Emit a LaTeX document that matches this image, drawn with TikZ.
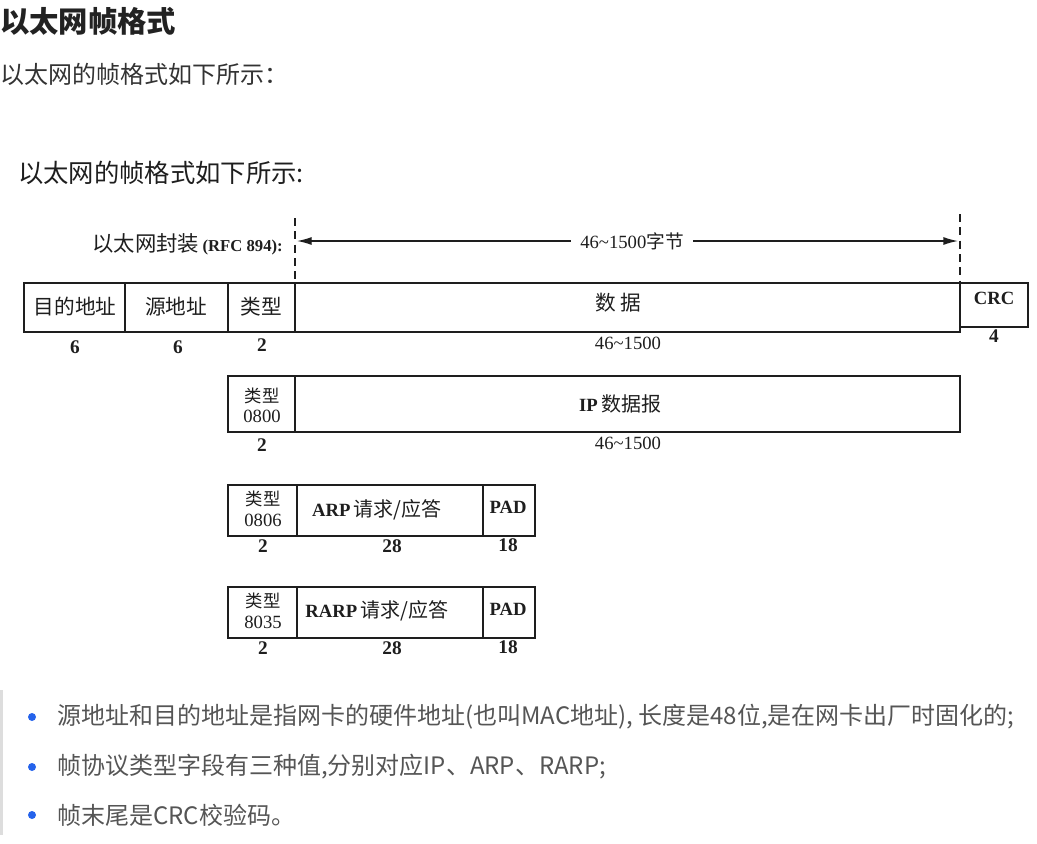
\documentclass[tikz,border=0pt]{standalone}
\usepackage{fontspec}
\setmainfont{Liberation Serif}
\newfontfamily\cjk{Noto Sans CJK SC}
\usetikzlibrary{arrows.meta}
\newcommand\setfs[1]{\fontsize{#1}{#1}\selectfont}
\definecolor{scan}{HTML}{1E1E1E}
\definecolor{headc}{HTML}{222222}
\definecolor{bodyc}{HTML}{333333}
\definecolor{notec}{HTML}{555555}
\definecolor{dotc}{HTML}{2563EB}
\definecolor{barc}{HTML}{DDDDDD}

\begin{document}
\begin{tikzpicture}[
  x=0.75pt, y=-0.75pt,
  every node/.style={inner sep=0pt},
  cellline/.style={draw=scan, line width=1.2pt},
  guide/.style={draw=scan, line width=1pt, dash pattern=on 6pt off 4pt},
  spanarrow/.style={draw=scan, line width=1pt, -{Latex[length=11pt,width=6pt]}},
  lab/.style={text=scan, font={\cjk\setfs{15.5}}},
  stack/.style={text=scan, font={\cjk\setfs{13}}},
  word/.style={text=scan, font={\bfseries\setfs{14}}},
  num/.style={text=scan, font={\bfseries\setfs{14.5}}},
  sizetext/.style={text=scan, font={\setfs{14}}},
  bullet/.style={circle, fill=dotc, minimum size=6pt},
  note/.style={anchor=west, text=notec, font={\cjk\setfs{18}}}]

  \useasboundingbox (0,0) rectangle (1037,843);

  % page text above the scan
  \node[anchor=west, text=headc, font={\cjk\bfseries\setfs{22}}] (title) at (0,21) {以太网帧格式};
  \node[anchor=west, text=bodyc, font={\cjk\setfs{18}}] (intro) at (0,74) {以太网的帧格式如下所示：};

  % scanned figure: caption
  \node[anchor=west, text=scan, font={\cjk\setfs{19}}] (caption) at (18,173) {以太网的帧格式如下所示:};
  \node[anchor=east, text=scan] (encap) at (283,244)
    {{\cjk\setfs{16}以太网封装} {\bfseries\setfs{12.5}(RFC 894):}};

  % frame rows
  \draw[cellline] (24,283) rectangle (960,332);
  \draw[cellline] (960,283) rectangle (1028,327);
  \draw[cellline] (125,283) -- (125,332);
  \draw[cellline] (228,283) -- (228,332);
  \draw[cellline] (295,283) -- (295,332);

  \draw[cellline] (228,376) rectangle (960,432);
  \draw[cellline] (295,376) -- (295,432);

  \foreach \top in {485,587} {
    \draw[cellline] (228,\top) rectangle (535,\top+51);
    \draw[cellline] (297,\top) -- (297,\top+51);
    \draw[cellline] (483,\top) -- (483,\top+51);
  }

  % span of the data field
  \draw[guide] (295,218) -- (295,283);
  \draw[guide] (960,214) -- (960,283);
  \coordinate (lend) at (297,241);
  \coordinate (rend) at (958,241);
  \node[text=scan, inner xsep=7pt] (span) at (632,241)
    {{\setfs{14}46\textasciitilde1500}{\cjk\setfs{14}字节}};
  \draw[spanarrow] (span.west) -- (lend);
  \draw[spanarrow] (span.east) -- (rend);

  % labels in the cells
  \node[lab] (dst)  at (75,307)  {目的地址};
  \node[lab] (src)  at (176,307) {源地址};
  \node[lab] (type) at (261,307) {类型};
  \node[lab] (data) at (618,303) {数\ 据};
  \node[word] (crc) at (994,298) {CRC};

  \node[stack] (iptype) at (262,396) {类型};
  \node[sizetext] (ipcode) at (262,416) {0800};
  \node[text=scan] (ip) at (620,404) {{\bfseries\setfs{14}IP} {\cjk\setfs{15}数据报}};

  \node[stack] (arptype) at (263,499) {类型};
  \node[sizetext] (arpcode) at (263,520) {0806};
  \node[text=scan] (arp) at (377,510) {{\bfseries\setfs{14}ARP} {\cjk\setfs{15}请求/应答}};
  \node[word] (arppad) at (508,507) {PAD};

  \node[stack] (rarptype) at (263,601) {类型};
  \node[sizetext] (rarpcode) at (263,622) {8035};
  \node[text=scan] (rarp) at (377,611) {{\bfseries\setfs{14}RARP} {\cjk\setfs{15}请求/应答}};
  \node[word] (rarppad) at (508,609) {PAD};

  % field sizes
  \node[num] at (75,347)  {6};
  \node[num] at (178,347) {6};
  \node[num] at (262,345) {2};
  \node[sizetext] at (628,343) {46\textasciitilde1500};
  \node[num] at (994,336) {4};

  \node[num] at (262,445) {2};
  \node[sizetext] at (628,443) {46\textasciitilde1500};

  \node[num] at (263,546) {2};
  \node[num] at (392,546) {28};
  \node[num] at (508,545) {18};

  \node[num] at (263,648) {2};
  \node[num] at (392,648) {28};
  \node[num] at (508,647) {18};

  % notes below
  \fill[barc] (0,690) rectangle (3,835);
  \node[bullet] (b1) at (32,717) {};
  \node[bullet] (b2) at (32,767) {};
  \node[bullet] (b3) at (32,815) {};
  \node[note] at (57,717) {源地址和目的地址是指网卡的硬件地址(也叫MAC地址), 长度是48位,是在网卡出厂时固化的;};
  \node[note] at (57,767) {帧协议类型字段有三种值,分别对应IP、ARP、RARP;};
  \node[note] at (57,815) {帧末尾是CRC校验码。};
\end{tikzpicture}
\end{document}
